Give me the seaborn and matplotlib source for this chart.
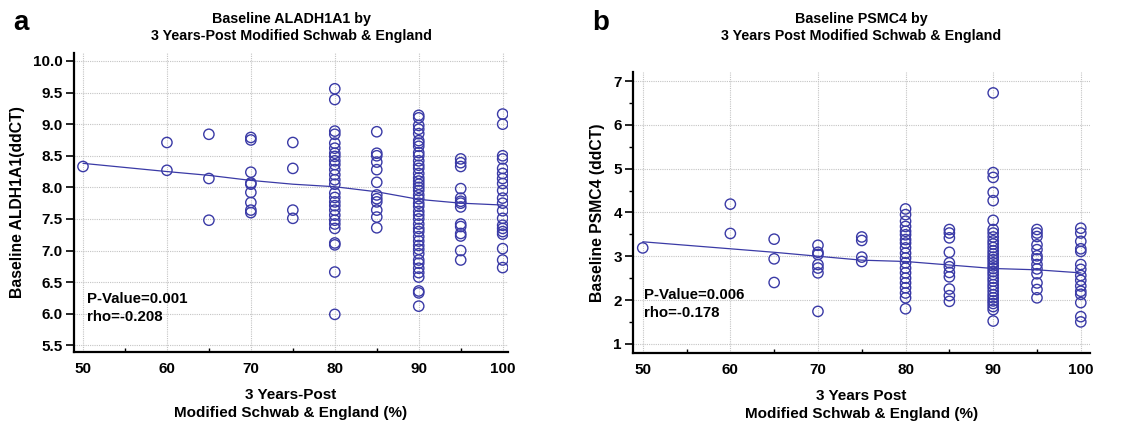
import numpy as np
import pandas as pd
import matplotlib
matplotlib.use("Agg")
import matplotlib.pyplot as plt
from matplotlib.ticker import MultipleLocator
import seaborn as sns

# --- panel a: ALDH1A1 values per Schwab & England level ---
a_levels = [50, 60, 65, 70, 75, 80, 85, 90, 95, 100]
a_values = [
    [8.33],
    [8.71, 8.27],
    [8.84, 8.14, 7.48],
    [8.79, 8.75, 8.24, 8.07, 8.05, 7.92, 7.76, 7.64, 7.60],
    [8.71, 8.30, 7.64, 7.51],
    [9.56, 9.39, 8.89, 8.84, 8.70, 8.62, 8.54, 8.49, 8.42, 8.36, 8.28, 8.20,
     8.12, 8.05, 7.91, 7.84, 7.77, 7.71, 7.64, 7.56, 7.48, 7.42, 7.35, 7.12,
     7.09, 6.66, 5.99],
    [8.88, 8.54, 8.50, 8.40, 8.28, 8.08, 7.88, 7.82, 7.77, 7.64, 7.53, 7.36],
    [9.14, 9.10, 8.98, 8.92, 8.85, 8.74, 8.70, 8.65, 8.55, 8.50, 8.42, 8.35,
     8.30, 8.22, 8.15, 8.10, 8.05, 8.00, 7.95, 7.88, 7.82, 7.75, 7.70, 7.62,
     7.56, 7.50, 7.42, 7.35, 7.30, 7.22, 7.15, 7.08, 7.02, 6.95, 6.85, 6.80,
     6.72, 6.65, 6.58, 6.36, 6.33, 6.12],
    [8.45, 8.39, 8.33, 7.98, 7.83, 7.78, 7.75, 7.69, 7.42, 7.38, 7.27, 7.23,
     7.00, 6.85],
    [9.16, 9.00, 8.50, 8.45, 8.30, 8.22, 8.14, 8.06, 7.95, 7.83, 7.75, 7.63,
     7.51, 7.40, 7.35, 7.30, 7.26, 7.03, 6.85, 6.73],
]
a_fit = [8.38, 8.25, 8.19, 8.11, 8.05, 8.01, 7.93, 7.81, 7.75, 7.72]

# --- panel b: PSMC4 values per level ---
b_levels = [50, 60, 65, 70, 75, 80, 85, 90, 95, 100]
b_values = [
    [3.19],
    [4.19, 3.52],
    [3.39, 2.94, 2.40],
    [3.25, 3.09, 3.04, 2.81, 2.73, 2.62, 1.74],
    [3.44, 3.36, 2.98, 2.88],
    [4.08, 3.95, 3.80, 3.68, 3.57, 3.49, 3.38, 3.30, 3.19, 3.07, 2.96, 2.85,
     2.73, 2.62, 2.50, 2.39, 2.28, 2.16, 2.05, 1.80],
    [3.61, 3.53, 3.42, 3.09, 2.85, 2.76, 2.63, 2.53, 2.25, 2.10, 1.97],
    [6.73, 4.91, 4.80, 4.46, 4.27, 3.82, 3.61, 3.53, 3.44, 3.35, 3.28, 3.20,
     3.12, 3.05, 2.98, 2.92, 2.85, 2.78, 2.72, 2.65, 2.58, 2.50, 2.43, 2.35,
     2.28, 2.20, 2.12, 2.05, 1.98, 1.92, 1.85, 1.78, 1.52],
    [3.61, 3.53, 3.45, 3.26, 3.15, 3.01, 2.94, 2.81, 2.71, 2.60, 2.39, 2.24,
     2.05],
    [3.64, 3.53, 3.34, 3.17, 3.11, 2.81, 2.70, 2.56, 2.45, 2.32, 2.20, 2.13,
     1.94, 1.62, 1.50],
]
b_fit = [3.33, 3.17, 3.09, 3.00, 2.91, 2.88, 2.80, 2.72, 2.69, 2.62]


def to_frame(levels, values):
    rows = [(x, y) for x, ys in zip(levels, values) for y in ys]
    return pd.DataFrame(rows, columns=["x", "y"])


sns.set_theme(style="white")
plt.rcParams["font.family"] = ["Liberation Sans", "DejaVu Sans"]
plt.rcParams["font.weight"] = "bold"
plt.rcParams["text.color"] = "black"
plt.rcParams["axes.labelcolor"] = "black"
plt.rcParams["xtick.color"] = "black"
plt.rcParams["ytick.color"] = "black"

navy = "#3a3aa6"
fig = plt.figure(figsize=(11.42, 4.23), dpi=100)

panels = [
    dict(rect=[0.0648, 0.1678, 0.380, 0.707], levels=a_levels, values=a_values,
         fit=a_fit, xlim=(48.93, 100.63), ylim=(5.394, 10.127),
         yticks=np.arange(5.5, 10.01, 0.5), yfmt="{:.1f}", yminor=None,
         title="Baseline ALADH1A1 by\n3 Years-Post Modified Schwab & England",
         tpad=9, ylabel="Baseline ALDH1A1(ddCT)",
         xlabel="3 Years-Post\nModified Schwab & England (%)",
         stat="P-Value=0.001\nrho=-0.208", stat_pos=(0.03, 0.2),
         letter="a", letter_x=0.012),
    dict(rect=[0.5543, 0.1655, 0.400, 0.664], levels=b_levels, values=b_values,
         fit=b_fit, xlim=(48.89, 101.03), ylim=(0.79, 7.205),
         yticks=np.arange(1, 7.01, 1), yfmt="{:.0f}", yminor=0.5,
         title="Baseline PSMC4 by\n3 Years Post Modified Schwab & England",
         tpad=23, ylabel="Baseline PSMC4 (ddCT)",
         xlabel="3 Years Post\nModified Schwab & England (%)",
         stat="P-Value=0.006\nrho=-0.178", stat_pos=(0.024, 0.232),
         letter="b", letter_x=0.519),
]

for p in panels:
    ax = fig.add_axes(p["rect"])
    df = to_frame(p["levels"], p["values"])
    ax.grid(True, color="#c4c4c4", linestyle=(0, (1, 1)), linewidth=0.8)
    ax.set_axisbelow(True)
    sns.scatterplot(data=df, x="x", y="y", ax=ax, marker="o", s=55,
                    facecolor="none", edgecolor=navy, linewidth=1.0, zorder=3)
    sns.lineplot(x=p["levels"], y=p["fit"], ax=ax, color=navy, lw=0.9,
                 zorder=4)

    ax.set_xlim(*p["xlim"])
    ax.set_ylim(*p["ylim"])
    ax.set_xticks(range(50, 101, 10))
    ax.xaxis.set_minor_locator(MultipleLocator(5))
    ax.set_yticks(p["yticks"])
    ax.set_yticklabels([p["yfmt"].format(v) for v in p["yticks"]])
    if p["yminor"]:
        ax.yaxis.set_minor_locator(MultipleLocator(p["yminor"]))

    for side in ["top", "right"]:
        ax.spines[side].set_visible(False)
    for side in ["left", "bottom"]:
        ax.spines[side].set_color("black")
        ax.spines[side].set_linewidth(1.6)

    ax.tick_params(axis="x", which="major", direction="in", length=6,
                   width=1.2, labelsize=11, pad=7)
    ax.tick_params(axis="x", which="minor", direction="in", length=3,
                   width=1.0, bottom=True)
    ax.tick_params(axis="y", which="major", direction="out", length=6,
                   width=1.2, labelsize=11, pad=2, left=True)
    ax.tick_params(axis="y", which="minor", direction="out", length=3,
                   width=1.0, left=True)
    for lab in ax.get_xticklabels() + ax.get_yticklabels():
        lab.set_fontweight("bold")

    ax.set_title(p["title"], fontsize=10.3, fontweight="bold", pad=p["tpad"],
                 linespacing=1.3)
    ax.set_xlabel(p["xlabel"], fontsize=11, fontweight="bold", labelpad=9,
                  linespacing=1.3)
    ax.set_ylabel(p["ylabel"], fontsize=11.3, fontweight="bold", labelpad=6)
    ax.text(p["stat_pos"][0], p["stat_pos"][1], p["stat"],
            transform=ax.transAxes, ha="left", va="top", fontsize=10.8,
            fontweight="bold", linespacing=1.35, zorder=5)

    fig.text(p["letter_x"], 0.945, p["letter"], fontsize=20,
             fontweight="bold", ha="left", va="center")

fig.savefig("out.png", dpi=100)
